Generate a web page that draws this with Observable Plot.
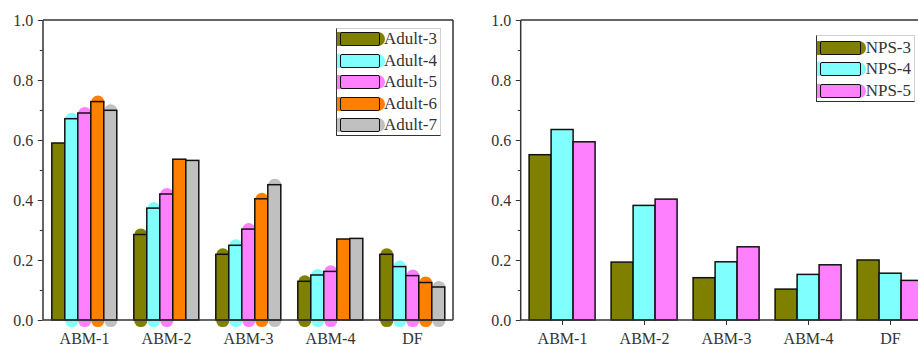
<!DOCTYPE html>
<html><head><meta charset="utf-8">
<script src="https://cdn.jsdelivr.net/npm/d3@7"></script>
<script src="https://cdn.jsdelivr.net/npm/@observablehq/plot@0.6"></script>
<style>
body{margin:0;width:918px;height:344px;overflow:hidden;background:#fff;position:relative;font-family:"Liberation Serif",Times,serif}
.panel{position:absolute;top:0;height:344px}
.panel svg{max-width:none !important;display:block}
.legend{position:absolute;background:#fff;border-top:1px solid #d0d0d0;border-right:1px solid #d0d0d0;border-left:1.5px solid #333;border-bottom:1.5px solid #333;box-sizing:border-box}
.row{position:absolute;left:0;height:14px}
.pill{position:absolute;left:0;top:0;height:14px;border-radius:0 7px 7px 0}
.sw{position:absolute;top:0;height:14px;box-sizing:border-box;border:1.6px solid #111;border-radius:2px}
.lab{position:absolute;top:-3px;font-size:17px;color:#333;line-height:20px;white-space:nowrap;font-family:"Liberation Serif",Times,serif}
</style>
</head><body>
<div id="left" class="panel" style="left:0;width:460px"></div>
<div id="right" class="panel" style="left:460px;width:480px"></div>
<script>
const categories = ["ABM-1","ABM-2","ABM-3","ABM-4","DF"];
const adultSeries = ["Adult-3","Adult-4","Adult-5","Adult-6","Adult-7"];
const adult3 = [0.590,0.285,0.219,0.129,0.219];
const adult4 = [0.671,0.373,0.249,0.150,0.178];
const adult5 = [0.690,0.420,0.303,0.162,0.148];
const adult6 = [0.728,0.536,0.404,0.270,0.125];
const adult7 = [0.699,0.532,0.451,0.272,0.110];
const npsSeries = ["NPS-3","NPS-4","NPS-5"];
const nps3 = [0.551,0.193,0.141,0.103,0.200];
const nps4 = [0.635,0.382,0.194,0.152,0.156];
const nps5 = [0.594,0.403,0.244,0.184,0.132];
const yTicks = [0,0.2,0.4,0.6,0.8,1.0];
const yMinorTicks = [0.1,0.3,0.5,0.7,0.9];
const adultColors = ["#808000","#80ffff","#ff80ff","#ff8000","#c0c0c0"];
const npsColors = ["#808000","#80ffff","#ff80ff"];
// bars that show the rounded cap artefacts in the original
const capped = [
  ["ABM-1","Adult-4"],["ABM-1","Adult-5"],["ABM-1","Adult-6"],["ABM-1","Adult-7"],
  ["ABM-2","Adult-3"],["ABM-2","Adult-4"],["ABM-2","Adult-5"],
  ["ABM-3","Adult-3"],["ABM-3","Adult-4"],["ABM-3","Adult-5"],["ABM-3","Adult-6"],["ABM-3","Adult-7"],
  ["ABM-4","Adult-3"],["ABM-4","Adult-4"],["ABM-4","Adult-5"],
  ["DF","Adult-3"],["DF","Adult-4"],["DF","Adult-5"],["DF","Adult-6"],["DF","Adult-7"]
];
const FONT = '"Liberation Serif",Times,serif';

function makePanel(el, series, values, colors, caps, frameLeft, frameRight, width, showRight) {
  const rows = [];
  series.forEach((s, j) => categories.forEach((c, i) => rows.push({cat: c, series: s, value: values[j][i]})));
  const capRows = rows.filter(r => caps.some(([c, s]) => c === r.cat && s === r.series));
  const step = (frameRight - frameLeft) / categories.length;
  const gap = 0.1 * step;
  const barW = step * 0.8 / series.length;
  const marginLeft = frameLeft + gap;
  const marginRight = width - (frameRight - gap);
  const plot = Plot.plot({
    width, height: 344, marginTop: 20, marginBottom: 24, marginLeft, marginRight,
    style: {fontFamily: FONT, fontSize: "16px", color: "#333", background: "transparent", overflow: "visible", maxWidth: "none"},
    fx: {domain: categories, paddingInner: 0.2, paddingOuter: 0, axis: "bottom", label: null, tickSize: 5, tickPadding: 7},
    x: {domain: series, padding: 0, axis: null},
    y: {domain: [0, 1]},
    color: {domain: series, range: colors},
    marks: [
      Plot.axisY({ticks: yTicks, tickFormat: d3.format(".1f"), tickSize: 5, tickPadding: 5, dx: -gap, label: null, stroke: "#333"}),
      Plot.axisY({ticks: yMinorTicks, tickFormat: () => "", tickSize: 3, dx: -gap, label: null, stroke: "#333"}),
      Plot.dot(capRows, {fx: "cat", x: "series", y: "value", r: barW / 2, fill: "series", stroke: null}),
      Plot.dot(capRows, {fx: "cat", x: "series", y: () => 0, r: barW / 2, fill: "series", stroke: null}),
      Plot.barY(rows, {fx: "cat", x: "series", y: "value", fill: "series", stroke: "#111", strokeWidth: 1.5, inset: 0})
    ]
  });
  const ys = plot.scale("y");
  const y0 = ys.apply(0), y1 = ys.apply(1);
  const g = d3.select(plot).append("g").attr("stroke", "#333").attr("stroke-width", 1.5).attr("fill", "none");
  g.append("line").attr("x1", frameLeft).attr("x2", frameLeft).attr("y1", y1).attr("y2", y0);
  g.append("line").attr("x1", frameLeft).attr("x2", frameRight).attr("y1", y0).attr("y2", y0);
  g.append("line").attr("x1", frameLeft).attr("x2", frameRight).attr("y1", y1).attr("y2", y1);
  if (showRight) g.append("line").attr("x1", frameRight).attr("x2", frameRight).attr("y1", y1).attr("y2", y0);
  el.appendChild(plot);
}

makePanel(document.getElementById("left"), adultSeries, [adult3, adult4, adult5, adult6, adult7], adultColors, capped, 43, 453, 460, true);
makePanel(document.getElementById("right"), npsSeries, [nps3, nps4, nps5], npsColors, [], 60.7, 470.7, 480, true);

function legend(series, colors, box, rowTop, rowStep, pillW, swL, swW, labL) {
  const d = document.createElement("div");
  d.className = "legend";
  Object.assign(d.style, {left: box[0] + "px", top: box[1] + "px", width: box[2] + "px", height: box[3] + "px"});
  series.forEach((s, i) => {
    const r = document.createElement("div");
    r.className = "row";
    r.style.top = (rowTop + i * rowStep) + "px";
    r.innerHTML = `<div class="pill" style="width:${pillW}px;background:${colors[i]}"></div>` +
      `<div class="sw" style="left:${swL}px;width:${swW}px;background:${colors[i]}"></div>` +
      `<div class="lab" style="left:${labL}px">${s}</div>`;
    d.appendChild(r);
  });
  document.body.appendChild(d);
}
legend(adultSeries, adultColors, [336, 27.5, 105, 108.5], 3.5, 21.6, 48, 3, 40, 47);
legend(npsSeries, npsColors, [815.7, 35, 99, 67], 4.5, 21.7, 49, 3, 41, 49);
</script>
</body></html>
